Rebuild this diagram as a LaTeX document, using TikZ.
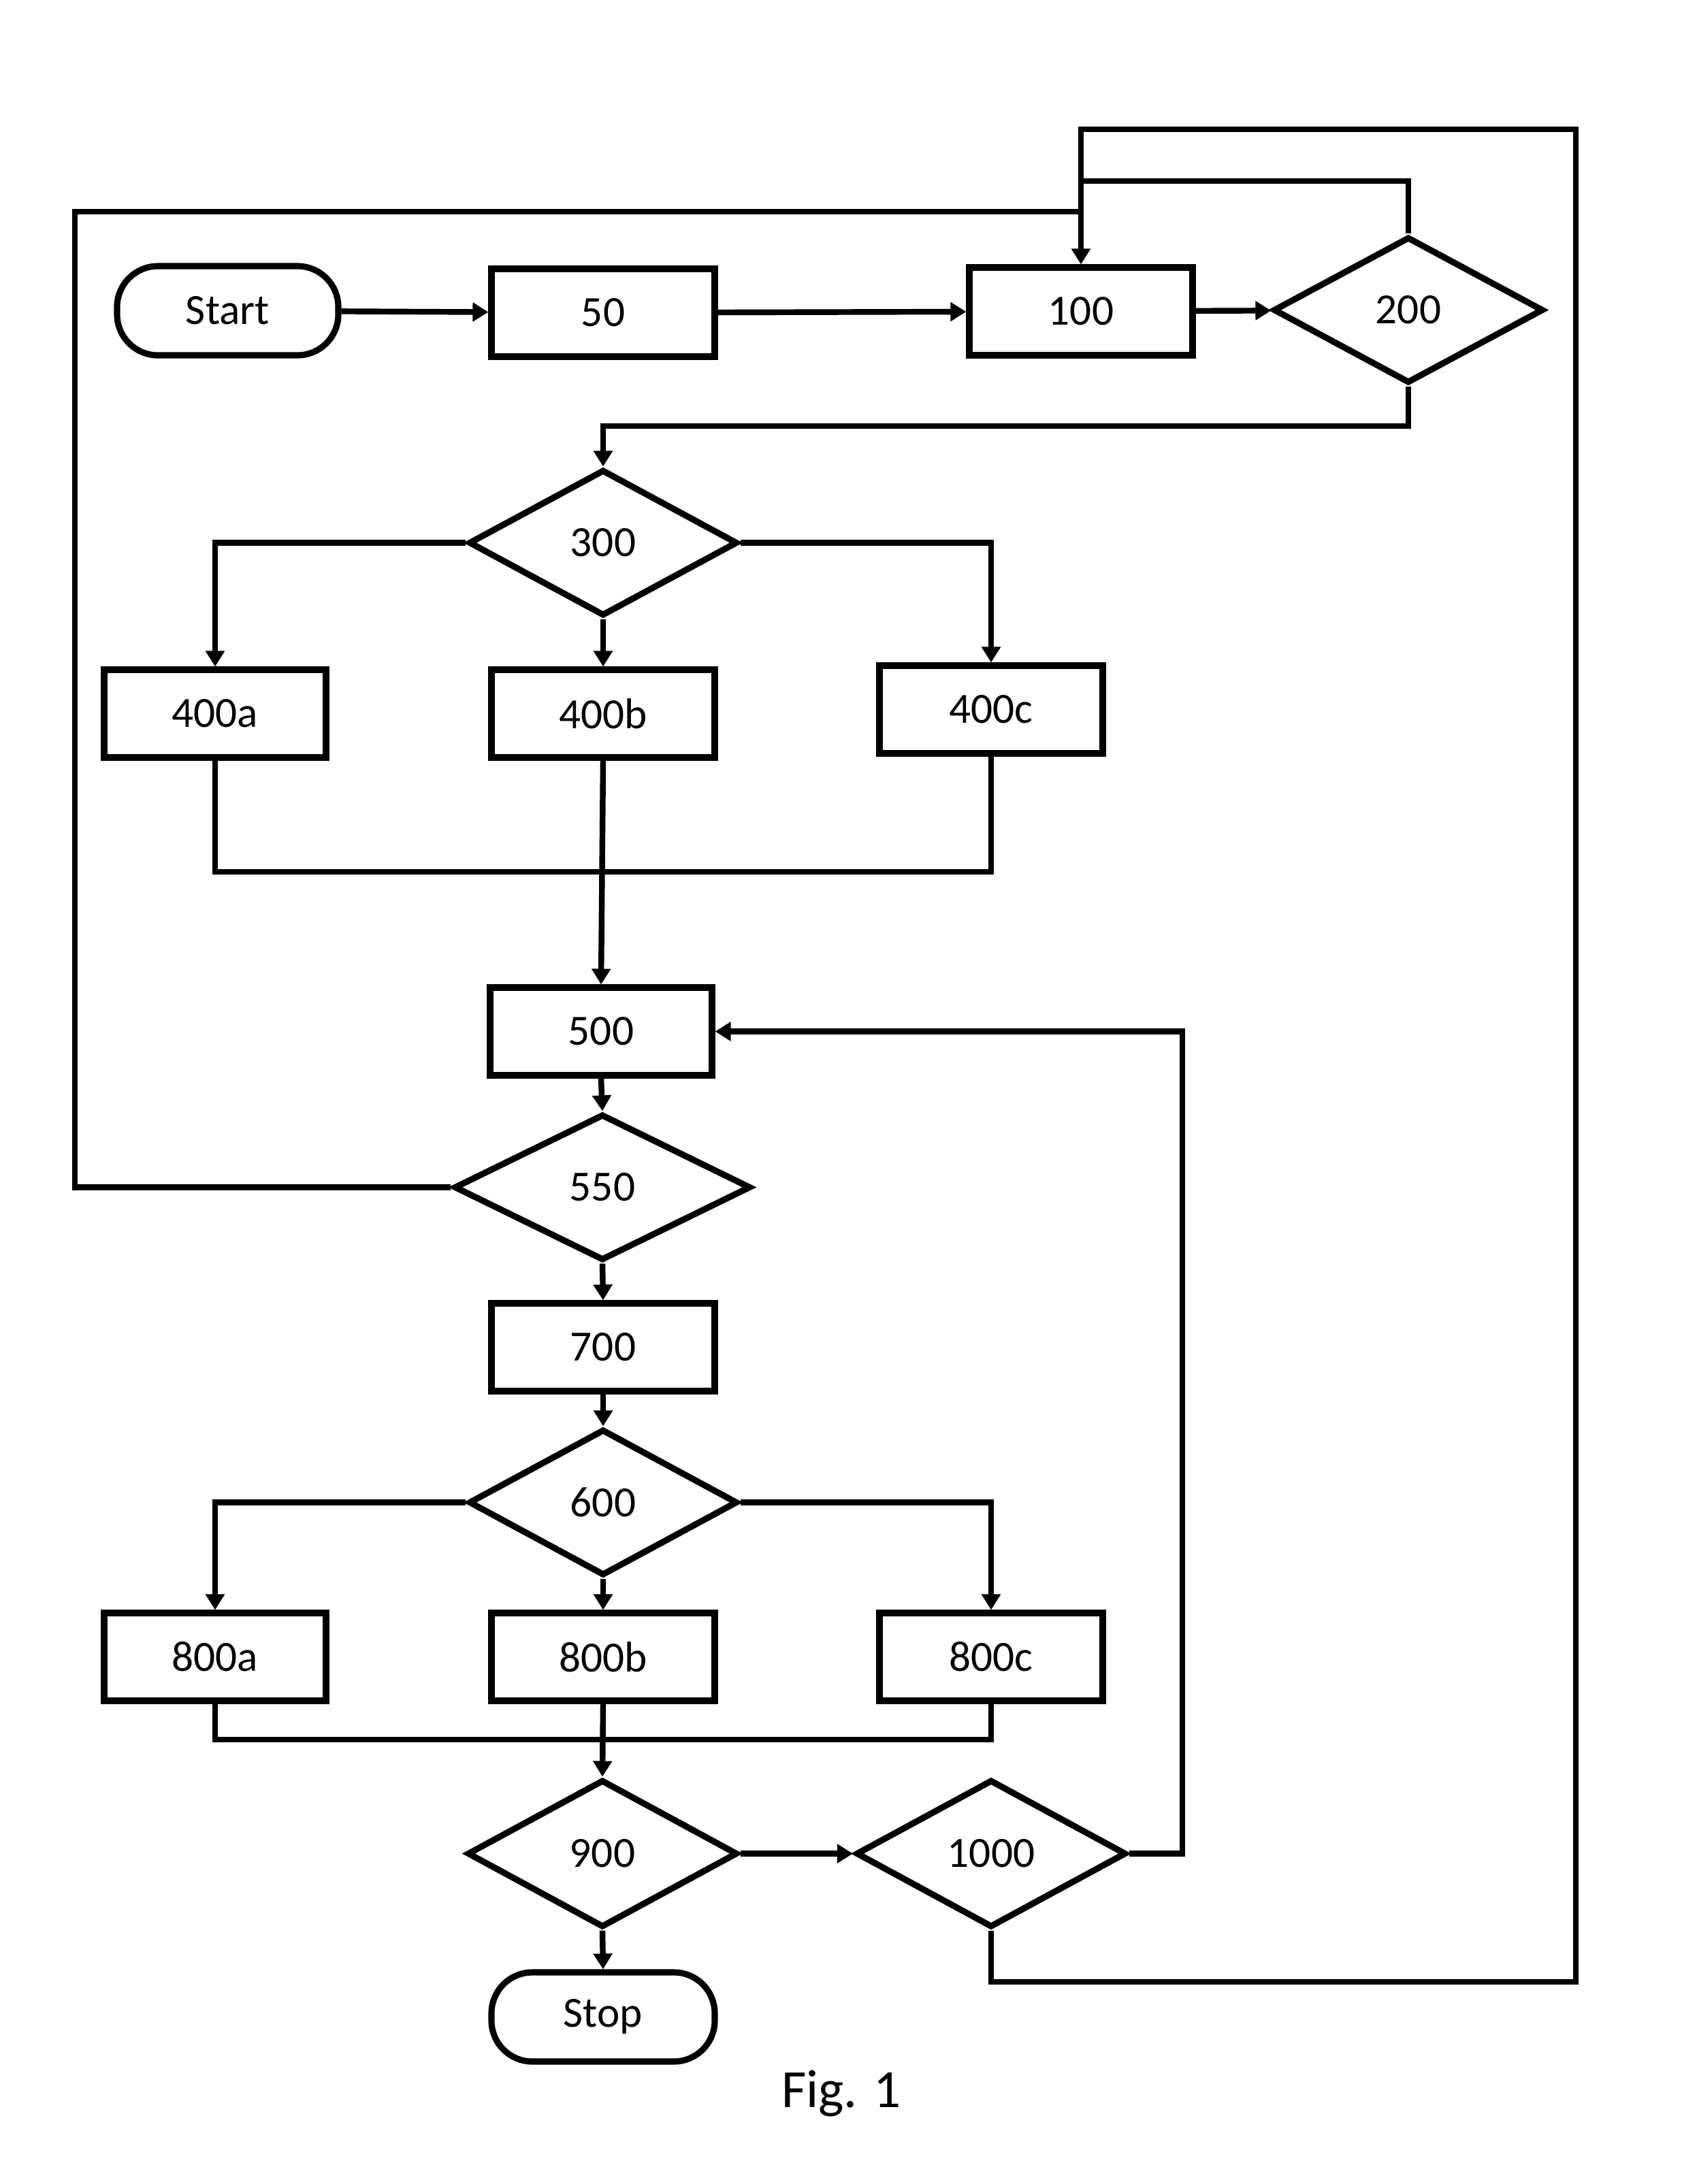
\documentclass[tikz,border=0pt]{standalone}
\usepackage{fontspec}
\setmainfont{Carlito}
\usetikzlibrary{shapes.geometric,arrows.meta}
\begin{document}
\begin{tikzpicture}[
  box/.style={draw, line width=2.6pt, rectangle, minimum width=3.28cm, minimum height=1.29cm, inner sep=0pt, font=\fontsize{18}{20}\selectfont},
  term/.style={box, rounded corners=0.6cm, minimum height=1.31cm},
  dec/.style={draw, line width=2.6pt, diamond, inner sep=0pt, minimum width=3.97cm, minimum height=2.15cm, font=\fontsize{18}{20}\selectfont},
  conn/.style={line width=2.4pt},
  arr/.style={conn, -{Triangle[length=0.23cm,width=0.27cm]}}
]
\useasboundingbox (0,0) rectangle (24.70,-32.09);
% nodes
\node[term, minimum width=3.25cm] (start) at (3.345,-4.565) {Start};
\node[box] (n50) at (8.86,-4.595) {50};
\node[box] (n100) at (15.88,-4.575) {100};
\node[dec] (n200) at (20.69,-4.555) {200};
\node[dec, minimum width=3.95cm] (n300) at (8.86,-7.975) {300};
\node[box, minimum width=3.26cm] (n400a) at (3.16,-10.485) {400a};
\node[box] (n400b) at (8.86,-10.485) {400b};
\node[box] (n400c) at (14.56,-10.425) {400c};
\node[box, minimum width=3.26cm] (n500) at (8.83,-15.155) {500};
\node[dec, minimum width=4.36cm] (n550) at (8.85,-17.445) {550};
\node[box] (n700) at (8.86,-19.795) {700};
\node[dec, minimum width=3.95cm] (n600) at (8.86,-22.075) {600};
\node[box, minimum width=3.26cm] (n800a) at (3.16,-24.345) {800a};
\node[box] (n800b) at (8.86,-24.345) {800b};
\node[box] (n800c) at (14.56,-24.345) {800c};
\node[dec, minimum height=2.17cm] (n900) at (8.85,-27.235) {900};
\node[dec, minimum height=2.17cm] (n1000) at (14.56,-27.235) {1000};
\node[term] (stop) at (8.86,-29.635) {Stop};
\node[font=\fontsize{22.5}{26}\selectfont] (fig) at (12.36,-30.76) {Fig. 1};
% coordinates
\coordinate (tr) at (23.15,-1.90);
\coordinate (tl) at (15.88,-1.90);
\coordinate (br) at (23.15,-29.12);
\coordinate (j200) at (15.88,-2.66);
\coordinate (j550) at (15.88,-3.11);
\coordinate (l550) at (1.10,-3.11);
\coordinate (b200) at (8.86,-6.26);
\coordinate (m400) at (8.86,-12.81);
\coordinate (m800) at (8.86,-25.56);
\coordinate (r1000) at (17.37,-15.155);
% connectors
\draw[arr] (start) -- (n50);
\draw[arr] (n50) -- (n100);
\draw[arr] (n100) -- (n200);
\draw[conn] (n200.north) |- (j200);
\draw[conn] (n550.west) -| (l550) -- (j550);
\draw[arr] (n1000.south) |- (br) -- (tr) -- (tl) -- (n100.north);
\draw[arr] (n200.south) |- (b200) -- (n300.north);
\draw[arr] (n300.west) -| (n400a.north);
\draw[arr] (n300.south) -- (n400b.north);
\draw[arr] (n300.east) -| (n400c.north);
\draw[conn] (n400a.south) |- (m400);
\draw[conn] (n400c.south) |- (m400);
\draw[arr] (n400b.south) -- (n500.north);
\draw[arr] (n500.south) -- (n550.north);
\draw[arr] (n550.south) -- (n700.north);
\draw[arr] (n700.south) -- (n600.north);
\draw[arr] (n600.west) -| (n800a.north);
\draw[arr] (n600.south) -- (n800b.north);
\draw[arr] (n600.east) -| (n800c.north);
\draw[conn] (n800a.south) |- (m800);
\draw[conn] (n800c.south) |- (m800);
\draw[arr] (n800b.south) -- (n900.north);
\draw[arr] (n900.east) -- (n1000.west);
\draw[arr] (n900.south) -- (stop.north);
\draw[arr] (n1000.east) -| (r1000) -- (n500.east);
\end{tikzpicture}
\end{document}
